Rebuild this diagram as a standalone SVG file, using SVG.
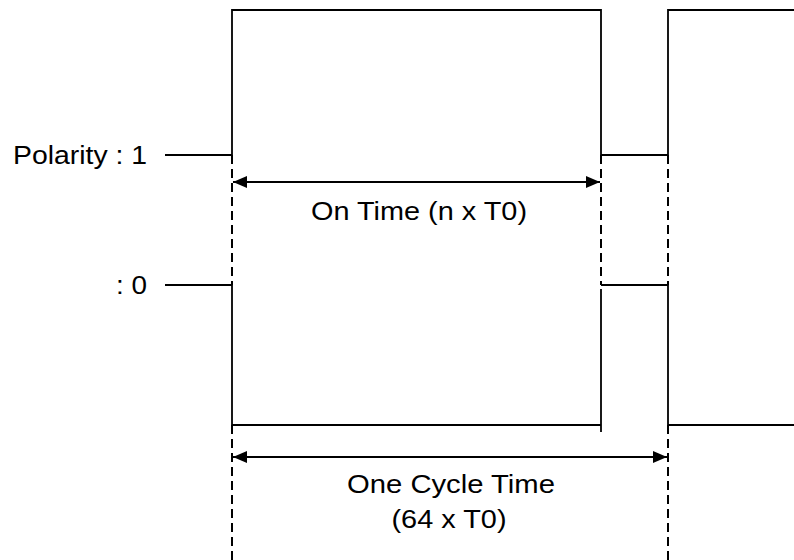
<svg xmlns="http://www.w3.org/2000/svg" width="794" height="560" viewBox="0 0 794 560">
<defs>
<style>
.w{fill:none;stroke:#000;stroke-width:1.8}
.d{fill:none;stroke:#000;stroke-width:2;stroke-dasharray:9 5}
.a{fill:none;stroke:#000;stroke-width:1.8}
.t{font-family:"Liberation Sans",Arial,sans-serif;font-size:25px;fill:#000}
</style>
<marker id="ah" markerUnits="userSpaceOnUse" viewBox="0 0 14 12" markerWidth="14" markerHeight="12" refX="14" refY="6" orient="auto-start-reverse">
<path d="M0,0 L14,6 L0,12 z" fill="#000"/>
</marker>
</defs>
<rect width="794" height="560" fill="#fff"/>
<g id="labels">
<text class="t" x="13" y="164" textLength="134" lengthAdjust="spacingAndGlyphs">Polarity : 1</text>
<text class="t" x="116" y="294" textLength="31" lengthAdjust="spacingAndGlyphs">: 0</text>
</g>
<g id="polarity1">
<path class="w" d="M165,155 H232 V10 H601 V155 H668 V10 H794"/>
</g>
<g id="polarity0">
<path class="w" d="M165,285 H232 V425 H601"/>
<path class="w" d="M601,289 V432"/>
<path class="w" d="M601,285 H668 V425 H794"/>
</g>
<g id="connectors">
<path class="d" d="M232,155 V285"/>
<path class="d" d="M232,425 V560"/>
<path class="d" d="M601,155 V285"/>
<path class="d" d="M668,155 V285"/>
<path class="d" d="M668,425 V560"/>
<path class="a" d="M233,182 H600" marker-start="url(#ah)" marker-end="url(#ah)"/>
<path class="a" d="M233,457 H667" marker-start="url(#ah)" marker-end="url(#ah)"/>
</g>
<g id="on-time">
<text class="t" x="419" y="220" text-anchor="middle" textLength="216" lengthAdjust="spacingAndGlyphs">On Time (n x T0)</text>
</g>
<g id="cycle-time">
<text class="t" x="451" y="493" text-anchor="middle" textLength="208" lengthAdjust="spacingAndGlyphs">One Cycle Time</text>
<text class="t" x="449" y="528" text-anchor="middle" textLength="115" lengthAdjust="spacingAndGlyphs">(64 x T0)</text>
</g>
</svg>
